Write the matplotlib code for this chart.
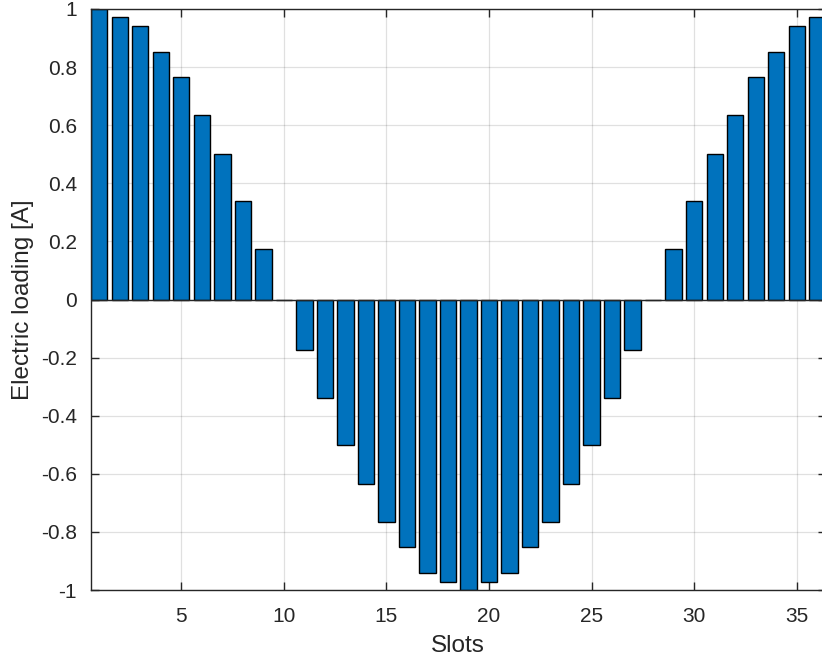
import matplotlib
matplotlib.use("Agg")
import matplotlib.pyplot as plt
from matplotlib.ticker import FixedLocator

slots = list(range(1, 37))
loading = [1.0, 0.971, 0.940, 0.853, 0.766, 0.634, 0.500, 0.338, 0.174, 0.0,
           -0.174, -0.338, -0.500, -0.634, -0.766, -0.853, -0.940, -0.971, -1.0,
           -0.971, -0.940, -0.853, -0.766, -0.634, -0.500, -0.338, -0.174, 0.0,
           0.174, 0.338, 0.500, 0.634, 0.766, 0.853, 0.940, 0.971]
xticks = [5, 10, 15, 20, 25, 30, 35]
xticklabels = ["5", "10", "15", "20", "25", "30", "35"]
yticks = [-1, -0.8, -0.6, -0.4, -0.2, 0, 0.2, 0.4, 0.6, 0.8, 1]
yticklabels = ["-1", "-0.8", "-0.6", "-0.4", "-0.2", "0", "0.2", "0.4", "0.6", "0.8", "1"]

plt.rcParams['font.family'] = ['Liberation Sans', 'DejaVu Sans']
plt.rcParams['axes.unicode_minus'] = False

txt = '#262626'
fig = plt.figure(figsize=(8.22, 6.63), dpi=100)
W, H = 822, 663
left, right, top, bottom = 91, 825.5, 9, 590
ax = fig.add_axes([left / W, 1 - bottom / H, (right - left) / W, (bottom - top) / H])

ax.bar(slots, loading, width=0.8, color='#0072BD', edgecolor='#000000', linewidth=1.0, zorder=3)
ax.axhline(0, color='#262626', linewidth=1.0, zorder=4)

ax.set_xlim(0.6, 36.4)
ax.set_ylim(-1, 1)
ax.xaxis.set_major_locator(FixedLocator(xticks))
ax.set_xticklabels(xticklabels)
ax.yaxis.set_major_locator(FixedLocator(yticks))
ax.set_yticklabels(yticklabels)

ax.grid(True, color='#000000', alpha=0.12, linewidth=0.9, zorder=0)
ax.set_axisbelow(True)
for s in ax.spines.values():
    s.set_color(txt)
    s.set_linewidth(1.0)
    s.set_zorder(5)
ax.tick_params(direction='in', length=6, width=1.0, colors=txt, labelsize=15,
               top=True, right=True, labelcolor=txt)
ax.tick_params(axis='x', pad=12)
ax.tick_params(axis='y', pad=10)

ax.set_xlabel('Slots', fontsize=17.5, color=txt, labelpad=7)
ax.set_ylabel('Electric loading [A]', fontsize=17.5, color=txt, labelpad=5)

fig.savefig('out.png', dpi=100)
